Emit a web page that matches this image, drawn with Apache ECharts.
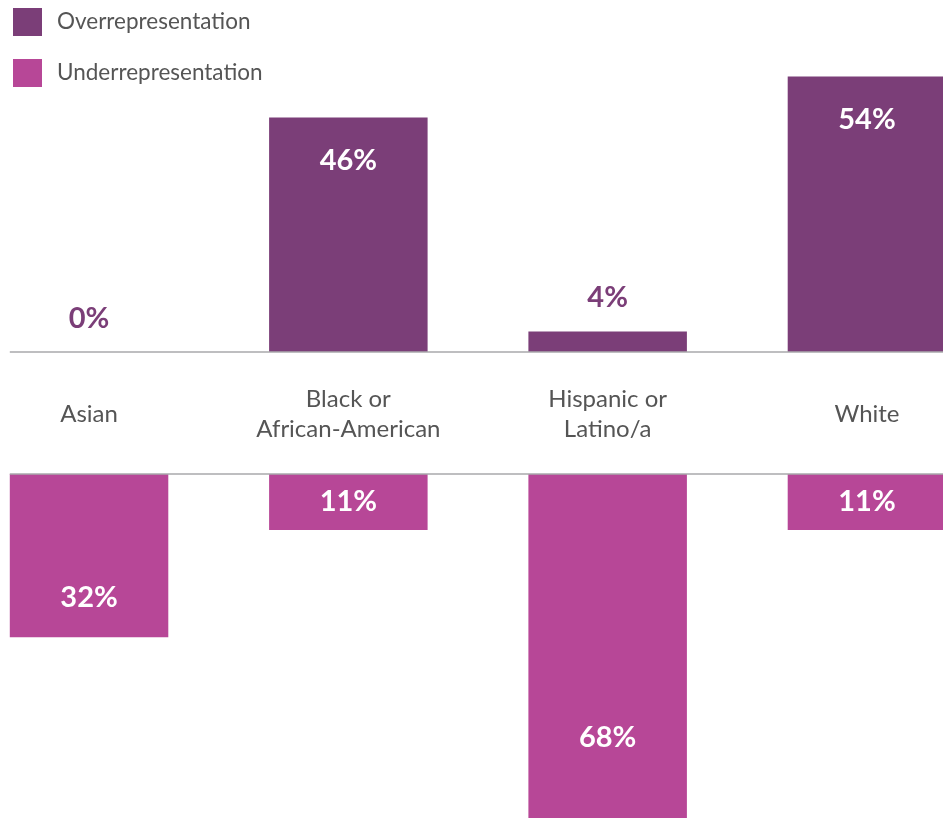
<!DOCTYPE html>
<html>
<head>
<meta charset="utf-8">
<script src="https://cdn.jsdelivr.net/npm/echarts@6/dist/echarts.min.js"></script>
<style>
  html, body { margin: 0; padding: 0; background: #ffffff; }
  #chart { width: 943px; height: 818px; }
</style>
</head>
<body>
<div id="chart"></div>
<script>
// Racial/ethnic groups and the share of each group's representation gap
const categories = ['Asian', 'Black or\nAfrican-American', 'Hispanic or\nLatino/a', 'White'];
const overValues = [0, 46, 4, 54];
const underValues = [32, 11, 68, 11];
const seriesNames = ['Overrepresentation', 'Underrepresentation'];

const OVER_COLOR = '#7b3e78';
const UNDER_COLOR = '#b74797';
const FONT = 'Lato, "Noto Sans", sans-serif';
const BAR_WIDTH = 158.5;

const chart = echarts.init(document.getElementById('chart'), null, { renderer: 'canvas' });

const valueLabel = {
  show: true,
  formatter: '{c}%',
  fontFamily: FONT,
  fontWeight: 'bold',
  fontSize: 29,
  color: '#ffffff'
};

// bars too short to hold their label get it above, in the bar colour
const overData = overValues.map(v => ({
  value: v,
  label: v < 10
    ? { position: 'top', distance: 19, color: OVER_COLOR }
    : { position: 'insideTop', distance: 29 }
}));

// longer bars keep the label in their lower part, short ones centre it
const underData = underValues.map(v => ({
  value: v,
  label: v < 20
    ? { position: 'inside' }
    : { position: ['50%', '76%'], align: 'center', verticalAlign: 'middle' }
}));

const option = {
  backgroundColor: '#ffffff',
  animation: false,
  legend: {
    orient: 'vertical',
    left: 13,
    top: 8,
    padding: 0,
    itemWidth: 29,
    itemHeight: 28,
    itemGap: 23,
    icon: 'rect',
    selectedMode: false,
    textStyle: { fontFamily: FONT, fontSize: 22.5, color: '#555555', padding: [0, 0, 0, 10] },
    data: seriesNames
  },
  grid: [
    { left: -40.6, width: 1037.2, top: 76.6, height: 275.4, outerBoundsMode: 'none', containLabel: false },
    { left: -40.6, width: 1037.2, top: 474, height: 346.8, outerBoundsMode: 'none', containLabel: false }
  ],
  xAxis: [
    {
      gridIndex: 0,
      type: 'category',
      data: categories,
      axisLine: { show: false },
      axisTick: { show: false },
      axisLabel: {
        margin: 62,
        verticalAlign: 'middle',
        fontFamily: FONT,
        fontSize: 24,
        lineHeight: 30,
        color: '#555555',
        interval: 0
      }
    },
    {
      gridIndex: 1,
      type: 'category',
      data: categories,
      show: false
    }
  ],
  yAxis: [
    { gridIndex: 0, type: 'value', min: 0, max: 54, show: false },
    { gridIndex: 1, type: 'value', min: 0, max: 68, inverse: true, show: false }
  ],
  series: [
    {
      name: seriesNames[0],
      type: 'bar',
      xAxisIndex: 0,
      yAxisIndex: 0,
      barWidth: BAR_WIDTH,
      itemStyle: { color: OVER_COLOR },
      label: valueLabel,
      data: overData
    },
    {
      name: seriesNames[1],
      type: 'bar',
      xAxisIndex: 1,
      yAxisIndex: 1,
      barWidth: BAR_WIDTH,
      itemStyle: { color: UNDER_COLOR },
      label: valueLabel,
      data: underData
    }
  ]
};

chart.setOption(option);

// baselines: from the left edge of the first bar across to the right edge
function baseline(gridIdx) {
  const x0 = chart.convertToPixel({ xAxisIndex: gridIdx }, categories[0]) - BAR_WIDTH / 2;
  const y = chart.convertToPixel({ yAxisIndex: gridIdx }, 0);
  return {
    type: 'line',
    silent: true,
    z: 10,
    shape: { x1: x0, y1: y, x2: chart.getWidth(), y2: y },
    style: { stroke: '#a9a9ab', lineWidth: 1.5 }
  };
}
chart.setOption({ graphic: [baseline(0), baseline(1)] });
</script>
</body>
</html>
